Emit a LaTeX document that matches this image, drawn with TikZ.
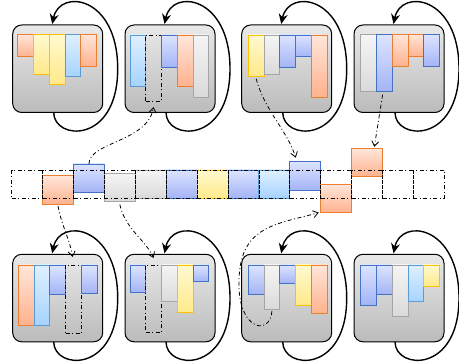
\documentclass[tikz,border=0pt]{standalone}
\usetikzlibrary{arrows.meta,calc}
\definecolor{oB}{HTML}{ED7D31}\definecolor{oT}{HTML}{FFE6DA}\definecolor{oD}{HTML}{FFB28E}
\definecolor{yB}{HTML}{FFC000}\definecolor{yT}{HTML}{FFF9D0}\definecolor{yD}{HTML}{FFE98A}
\definecolor{bB}{HTML}{4472C4}\definecolor{bT}{HTML}{DDE4FF}\definecolor{bD}{HTML}{A3B4F6}
\definecolor{lB}{HTML}{5B9BD5}\definecolor{lT}{HTML}{DFF0FF}\definecolor{lD}{HTML}{A6D3FF}
\definecolor{gB}{HTML}{A5A5A5}\definecolor{gT}{HTML}{F5F5F5}\definecolor{gD}{HTML}{DADADA}
\definecolor{pT}{HTML}{E9E9E9}\definecolor{pD}{HTML}{BBBBBB}
\tikzset{
  dashdot/.style={dash pattern=on 4pt off 2.5pt on 1pt off 2.5pt},
  panel/.style={draw=black,line width=1pt,rounded corners=9pt,top color=pT,bottom color=pD,
    minimum width=90pt,minimum height=87.5pt,inner sep=0pt,outer sep=0pt,anchor=north west},
  bar/.style={line width=0.9pt,minimum width=15.75pt,inner sep=0pt,outer sep=0pt,anchor=north west},
  OR/.style={draw=oB,top color=oT,bottom color=oD},
  YE/.style={draw=yB,top color=yT,bottom color=yD},
  BL/.style={draw=bB,top color=bT,bottom color=bD},
  LB/.style={draw=lB,top color=lT,bottom color=lD},
  GR/.style={draw=gB,top color=gT,bottom color=gD},
  SL/.style={draw=black,line width=0.7pt,dashdot},
  cellbox/.style={line width=0.9pt,minimum width=30.9pt,minimum height=28.3pt,inner sep=0pt,outer sep=0pt,anchor=north west},
  slotcell/.style={cellbox,draw=black,line width=0.7pt,dashdot},
  loopline/.style={line width=1.4pt,-{Stealth[length=10pt,width=9pt]}},
  move/.style={line width=0.8pt,dashdot,-{Straight Barb[length=5pt,width=7pt]}}
}
\newcommand\barset[4]{%
  \foreach \h/\s [count=\k] in {#4} {
    \node[bar,\s,minimum height=\h pt] (b#1-\k) at ({#2+(\k-1)*15.75},#3) {};
  }}
\newcommand\panelloop[1]{%
  \coordinate (#1r) at ($(#1.east)+(15,0)$);
  \draw[loopline] ([xshift=-4pt]#1.south) .. controls +(0,28) and +(0,76) .. (#1r)
     .. controls +(0,-73) and +(7.5,-36) .. ([xshift=-5.5pt,yshift=1pt]#1.north);}
\begin{document}
\begin{tikzpicture}[x=1pt,y=-1pt]
\useasboundingbox (0,0) rectangle (459,363);
% panels
\node[panel] (p1) at (12.7,25) {};
\node[panel] (p2) at (125,25) {};
\node[panel] (p3) at (241.7,25) {};
\node[panel] (p4) at (354,25) {};
\node[panel] (p5) at (12.7,254.3) {};
\node[panel] (p6) at (125,254.3) {};
\node[panel] (p7) at (241.7,254.3) {};
\node[panel] (p8) at (354,254.3) {};
\foreach \p in {p1,p2,p3,p4,p5,p6,p7,p8} {\panelloop{\p}}
% bars
\barset{1}{17.7}{34.3}{22.4/OR,39.7/YE,49.7/YE,42.4/LB,31.7/OR}
\barset{2}{130}{35}{51/LB,66/SL,32.3/BL,51/OR,62.3/GR}
\barset{3}{248.3}{35}{41.7/YE,39/GR,32.3/BL,21.7/BL,62.3/OR}
\barset{4}{360.7}{34.3}{57.4/GR,57.4/BL,31.7/OR,22.4/OR,32.4/BL}
\barset{5}{18.3}{265}{60/OR,60/LB,29/BL,68.3/SL,28.3/BL}
\barset{6}{130}{265}{27.7/BL,67.3/SL,36.7/GR,47.7/YE,16.7/BL}
\barset{7}{248.3}{265}{29/BL,44.3/GR,18.3/BL,40/YE,48.3/OR}
\barset{8}{360.7}{265}{40/BL,29/BL,51/GR,36.7/LB,21/YE}
% middle strip contents
\foreach \i/\dy/\s in {1/5.7/OR,2/-6/BL,3/3.3/GR,4/0/GR,5/0/BL,6/0/YE,7/0/BL,8/0/LB,9/-8.3/BL,10/14.3/OR,11/-21.7/OR}
  {\node[cellbox,\s] (c\i) at ({11.7+30.9*\i},{170+\dy}) {};}
\foreach \i in {0,...,13}
  {\node[slotcell] (cell\i) at ({11.7+30.9*\i},170) {};}
% moves
\draw[move] (c2.north) .. controls +(0,-22) and +(-6,35) .. ([yshift=-6pt]b2-2.south);
\draw[move] ([yshift=-2pt]b3-1.south) .. controls +(8,31) and +(-9,-28) .. ([xshift=-9.5pt,yshift=4pt]c9.north);
\draw[move] ([xshift=-1.7pt,yshift=-3pt]b4-2.south) -- ([xshift=7.3pt,yshift=1.5pt]c11.north);
\draw[move] ([yshift=-2pt]c1.south) .. controls +(3,18) and +(-3,-18) .. ([xshift=-0.8pt,yshift=8pt]b5-4.north);
\draw[move] ([yshift=-3pt]c3.south) .. controls +(5,24) and +(-8,-18) .. ([yshift=7pt]b6-2.north);
\coordinate (a6m) at (239,285);
\draw[move] ([yshift=-2pt]b7-2.south) .. controls +(-2,25) and +(0,45) .. (a6m)
   .. controls +(-1,-60) and +(-42,12) .. ([xshift=-2pt]c10.south west);
\end{tikzpicture}
\end{document}
